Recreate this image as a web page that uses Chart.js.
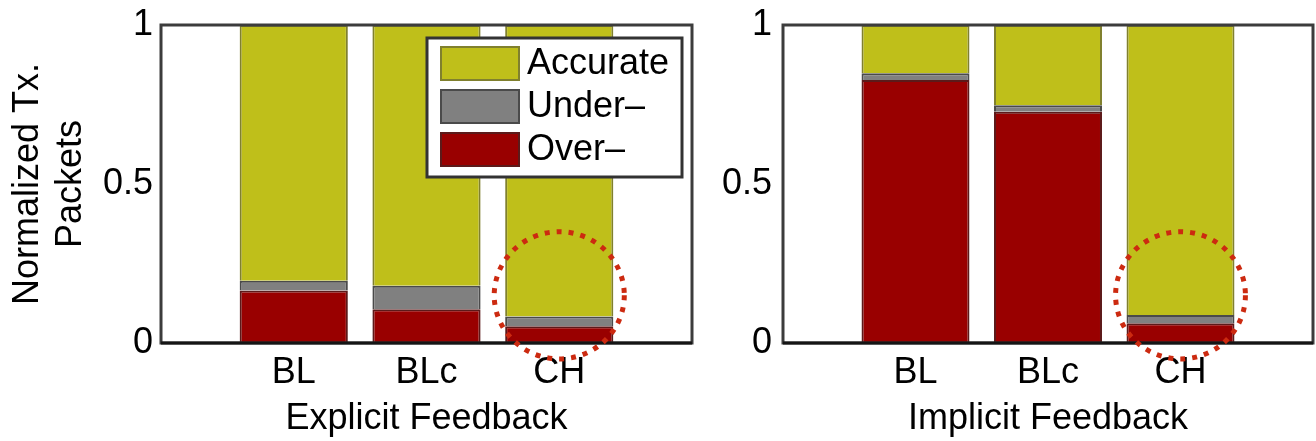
<!DOCTYPE html>
<html>
<head>
<meta charset="utf-8">
<script src="https://cdn.jsdelivr.net/npm/chart.js@4.4.0/dist/chart.umd.min.js"></script>
<style>
  html, body { margin: 0; padding: 0; background: #fff; }
  #wrap { position: relative; width: 1316px; height: 441px; }
  canvas { position: absolute; top: 0; }
</style>
</head>
<body>
<div id="wrap">
  <canvas id="explicitChart" width="700" height="441" style="left:0"></canvas>
  <canvas id="implicitChart" width="616" height="441" style="left:700px"></canvas>
</div>
<script>
// ---- data ----
const categories = ['BL', 'BLc', 'CH'];
const seriesNames = ['Over–', 'Under–', 'Accurate'];

const explicitOver = [0.165, 0.106, 0.053];
const explicitUnder = [0.031, 0.074, 0.030];
const explicitAccurate = [0.804, 0.820, 0.917];

const implicitOver = [0.827, 0.727, 0.062];
const implicitUnder = [0.021, 0.021, 0.026];
const implicitAccurate = [0.152, 0.252, 0.912];

const highlightCategory = 'CH';

// ---- look ----
const FONT = "'Liberation Sans', Arial, Helvetica, sans-serif";
const COLORS = {
    over: { fill: '#990000', edge: '#5c1a1a' },
    under: { fill: '#808080', edge: '#4a4a4a' },
    accurate: { fill: '#bfbf1a', edge: '#80802e' },
};

// empty slot either side so the bars sit at 1..3 of a 0..4 axis
const pad = arr => [null, ...arr, null];
const xLabels = pad(categories);

const framePlugin = {
    id: 'frame',
    afterDatasetsDraw(chart) {
        const { ctx, chartArea: a } = chart;
        ctx.save();
        ctx.strokeStyle = '#3c3c3c';
        ctx.lineWidth = 3;
        ctx.strokeRect(a.left, a.top, a.right - a.left, a.bottom - a.top);
        ctx.strokeStyle = '#151515';
        ctx.beginPath();
        ctx.moveTo(a.left, a.bottom);
        ctx.lineTo(a.right, a.bottom);
        ctx.stroke();
        ctx.restore();
    }
};

// dotted ring around the highlighted bar
const ringPlugin = {
    id: 'ring',
    afterDraw(chart, args, opts) {
        const x = chart.scales.x, y = chart.scales.y;
        const idx = xLabels.indexOf(highlightCategory);
        const step = x.getPixelForValue(1) - x.getPixelForValue(0);
        const cx = x.getPixelForValue(idx);
        const cy = y.getPixelForValue(opts.yCenter);
        const rx = step * opts.xRadius;
        const ry = y.getPixelForValue(opts.yCenter - opts.yRadius) - cy;
        const ctx = chart.ctx;
        ctx.save();
        ctx.strokeStyle = '#cc2a10';
        ctx.lineWidth = 5;
        ctx.setLineDash([5, 7]);
        ctx.beginPath();
        ctx.ellipse(cx, cy, rx, ry, 0, 0, Math.PI * 2);
        ctx.stroke();
        ctx.restore();
    }
};

// boxed legend inside the plot, top right
const boxLegendPlugin = {
    id: 'boxLegend',
    afterDraw(chart, args, opts) {
        if (!opts.display) return;
        const { ctx, chartArea: a } = chart;
        const w = 255, h = 139;
        const bx = a.right - 10 - w, by = a.top + 13;
        ctx.save();
        ctx.fillStyle = '#fff';
        ctx.fillRect(bx, by, w, h);
        ctx.strokeStyle = '#333';
        ctx.lineWidth = 3;
        ctx.strokeRect(bx, by, w, h);
        const items = chart.data.datasets.slice().reverse();
        ctx.font = '36px ' + FONT;
        ctx.textBaseline = 'middle';
        items.forEach((ds, i) => {
            const sy = by + 9 + i * 43;
            ctx.fillStyle = ds.backgroundColor;
            ctx.fillRect(bx + 14, sy, 78, 33);
            ctx.strokeStyle = ds.borderColor;
            ctx.lineWidth = 2;
            ctx.strokeRect(bx + 14, sy, 78, 33);
            ctx.fillStyle = '#000';
            ctx.fillText(ds.label, bx + 100, sy + 17);
        });
        ctx.restore();
    }
};

function makeChart(id, over, under, accurate, o) {
    const values = [over, under, accurate];
    const keys = ['over', 'under', 'accurate'];
    return new Chart(document.getElementById(id), {
        type: 'bar',
        data: {
            labels: xLabels,
            datasets: keys.map((k, i) => ({
                label: seriesNames[i],
                data: pad(values[i]),
                backgroundColor: COLORS[k].fill,
                borderColor: COLORS[k].edge,
                borderWidth: 2,
                barPercentage: 0.815,
                categoryPercentage: 1,
            }))
        },
        options: {
            responsive: false,
            animation: false,
            layout: { padding: { top: 25, right: o.padRight, bottom: 0, left: 0 } },
            plugins: {
                legend: { display: false },
                tooltip: { enabled: false },
                ring: { yCenter: 0.15, yRadius: 0.2, xRadius: 0.49 },
                boxLegend: { display: o.legend },
            },
            scales: {
                x: {
                    stacked: true,
                    offset: false,
                    grid: { display: false, drawTicks: false },
                    border: { display: false },
                    ticks: { color: '#000', font: { family: FONT, size: 36 }, padding: 8, autoSkip: false, maxRotation: 0 },
                    title: { display: true, text: o.xTitle, color: '#000', font: { family: FONT, size: 36 }, padding: { top: 0, bottom: 0 } },
                    afterFit(s) { s.height = 98; }
                },
                y: {
                    stacked: true,
                    min: 0, max: 1,
                    grid: { display: false, drawTicks: false },
                    border: { display: false },
                    ticks: {
                        stepSize: 0.5, color: '#000', font: { family: FONT, size: 36 }, padding: o.tickPad,
                        callback: v => String(+v)
                    },
                    title: { display: !!o.yTitle, text: o.yTitle, color: '#000', font: { family: FONT, size: 36 }, padding: { top: 6, bottom: 0 } },
                    // fixed gutter; let layout.padding decide where the plot top sits
                    afterFit(s) { s.width = o.yWidth; s.paddingTop = 0; s.paddingBottom = 0; }
                }
            }
        },
        plugins: [framePlugin, ringPlugin, boxLegendPlugin]
    });
}

makeChart('explicitChart', explicitOver, explicitUnder, explicitAccurate, {
    xTitle: 'Explicit Feedback',
    yTitle: ['Normalized Tx.', 'Packets'],
    yWidth: 161, padRight: 8, tickPad: 8, legend: true
});

makeChart('implicitChart', implicitOver, implicitUnder, implicitAccurate, {
    xTitle: 'Implicit Feedback',
    yTitle: '',
    yWidth: 83, padRight: 3, tickPad: 11, legend: false
});
</script>
</body>
</html>
